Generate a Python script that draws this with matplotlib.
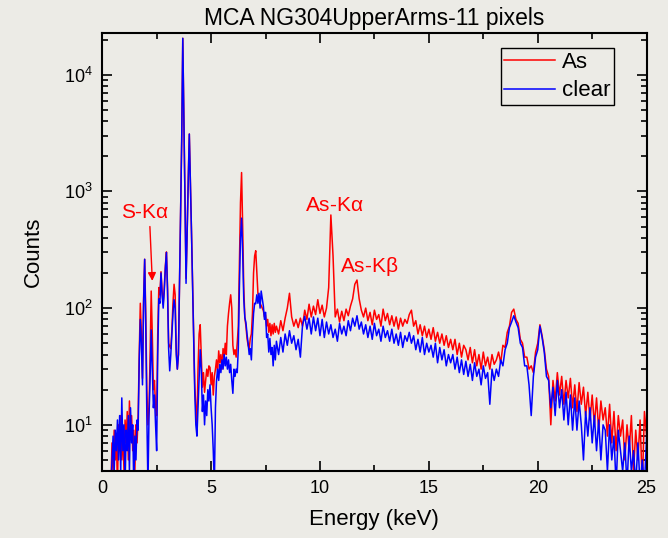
import numpy as np
import matplotlib
matplotlib.use("Agg")
import matplotlib.pyplot as plt

plt.rcParams['font.family'] = ['Liberation Sans', 'DejaVu Sans']
plt.rcParams['mathtext.default'] = 'regular'

# energy axis: 0.05 keV bins up to 8 keV, 0.1 keV bins after
energy_low = np.linspace(0.40, 8.00, 153)
energy_high = np.linspace(8.1, 25.0, 170)

# counts, "As" spectrum
as_low = [
    3, 7, 4, 9, 5, 8, 3, 10, 6, 12,
    5, 9, 4, 11, 7, 13, 5, 16, 8, 12,
    6, 9, 4, 10, 7, 12, 40, 110, 60, 25,
    120, 262, 90, 20, 10, 14, 40, 140, 60, 20,
    24, 14, 12, 60, 150, 130, 205, 140, 108, 150,
    230, 303, 150, 50, 47, 45, 65, 110, 160, 130,
    45, 30, 40, 160, 650, 2700, 20500, 4500, 900, 180,
    450, 1300, 3100, 1200, 450, 160, 60, 22, 14, 10,
    30, 60, 72, 40, 21, 28, 19, 24, 30, 26,
    32, 31, 22, 28, 18, 26, 30, 36, 28, 43,
    34, 40, 30, 45, 38, 50, 40, 70, 90, 110,
    130, 100, 48, 40, 44, 38, 50, 70, 250, 800,
    1450, 500, 150, 83, 70, 55, 48, 45, 55, 60,
    90, 200, 280, 310, 200, 134, 120, 110, 105, 100,
    95, 84, 88, 70, 80, 62, 74, 58, 72, 60,
    74, 62, 70,
]
as_high = [
    60, 78, 64, 82, 100, 134, 84, 70, 80, 68,
    82, 70, 96, 80, 108, 84, 104, 88, 118, 90,
    106, 84, 100, 150, 628, 280, 84, 98, 76, 94,
    78, 98, 86, 104, 120, 160, 174, 120, 96, 84,
    100, 78, 92, 72, 96, 80, 88, 70, 98, 78,
    90, 72, 86, 70, 84, 66, 82, 70, 80, 74,
    88, 96, 70, 78, 60, 72, 58, 70, 56, 66,
    54, 68, 52, 62, 50, 60, 48, 58, 46, 54,
    44, 54, 40, 50, 38, 48, 44, 36, 46, 34,
    44, 32, 40, 30, 42, 32, 38, 30, 40, 33,
    36, 42, 34, 48, 46, 62, 70, 92, 98, 80,
    74, 54, 50, 38, 38, 30, 32, 28, 42, 50,
    72, 58, 44, 30, 26, 10, 24, 16, 28, 18,
    26, 15, 24, 17, 25, 14, 22, 13, 23, 15,
    21, 12, 19, 11, 18, 10, 17, 9, 16, 11,
    14, 8, 15, 7, 13, 6, 12, 8, 11, 5,
    10, 6, 12, 4, 9, 5, 11, 3, 13, 8,
]

# "clear" spectrum
clear_low = [
    3, 5, 8, 4, 9, 6, 11, 5, 12, 4,
    17, 6, 10, 3, 9, 6, 12, 4, 14, 7,
    10, 3, 8, 5, 11, 9, 35, 80, 50, 22,
    110, 262, 70, 12, 3, 12, 25, 65, 30, 14,
    18, 10, 6, 40, 120, 110, 200, 130, 100, 140,
    220, 300, 140, 45, 29, 40, 60, 90, 118, 100,
    40, 30, 40, 160, 650, 2700, 20500, 4500, 900, 163,
    450, 1300, 3100, 1200, 450, 160, 60, 19, 10, 8,
    14, 25, 44, 30, 13, 18, 10, 16, 12, 20,
    16, 22, 14, 10, 6, 3, 14, 24, 30, 24,
    33, 28, 36, 30, 40, 32, 38, 30, 36, 28,
    33, 24, 18.6, 30, 26, 30, 28, 45, 150, 400,
    590, 300, 120, 83, 75, 60, 50, 40, 45, 36,
    60, 90, 110, 109, 130, 110, 134, 100, 140, 120,
    104, 80, 92, 56, 60, 42, 55, 40, 46, 32,
    48, 36, 52,
]
clear_high = [
    40, 56, 42, 60, 48, 64, 50, 58, 44, 54,
    38, 72, 85, 66, 82, 60, 84, 64, 82, 58,
    80, 56, 76, 60, 72, 56, 66, 52, 74, 60,
    70, 58, 78, 64, 82, 70, 86, 66, 76, 60,
    72, 56, 70, 54, 74, 58, 66, 52, 70, 56,
    64, 52, 66, 50, 60, 48, 62, 46, 58, 52,
    62, 50, 58, 44, 54, 42, 56, 40, 50, 42,
    48, 38, 50, 34, 46, 36, 44, 32, 40, 34,
    40, 30, 38, 28, 36, 27, 35, 26, 33, 24,
    34, 26, 30, 22, 32, 25, 28, 15, 30, 24,
    30, 26, 36, 32, 44, 50, 68, 76, 86, 76,
    68, 50, 46, 32, 32, 22, 12, 26, 38, 44,
    70, 56, 42, 26, 24, 14, 21, 12, 24, 14,
    20, 11, 19, 10, 18, 9, 17, 9, 16, 10,
    5, 13, 8, 14, 7, 12, 6, 11, 5, 10,
    9, 4, 10, 5, 8, 3, 9, 6, 4, 7,
    3, 8, 4, 6, 3, 7, 3, 5, 3, 8,
]

energy = np.concatenate([energy_low, energy_high])
counts_as = np.array(as_low + as_high, dtype=float)
counts_clear = np.array(clear_low + clear_high, dtype=float)

bg = '#ecebe6'
fig = plt.figure(figsize=(6.68, 5.38), dpi=100, facecolor=bg)
ax = fig.add_axes([0.153, 0.125, 0.815, 0.813], facecolor=bg)

ax.plot(energy, counts_as, color='red', lw=1.1, label='As')
ax.plot(energy, counts_clear, color='blue', lw=1.1, label='clear')

ax.set_yscale('log')
ax.set_xlim(0, 25)
ax.set_ylim(4.04, 22600)
ax.set_xticks([0, 5, 10, 15, 20, 25])
ax.set_xticks([2.5, 7.5, 12.5, 17.5, 22.5], minor=True)

ax.tick_params(which='both', direction='in', top=True, right=True,
               labelsize=13, width=1.2)
ax.tick_params(which='major', length=7, pad=7)
ax.tick_params(which='minor', length=4)
for s in ax.spines.values():
    s.set_linewidth(1.5)

ax.set_title('MCA NG304UpperArms-11 pixels', fontsize=16.5, pad=6)
ax.set_xlabel('Energy (keV)', fontsize=16, labelpad=8)
ax.set_ylabel('Counts', fontsize=16, labelpad=14)

# peak labels
ax.text(1.99, 660, 'S-K$\\alpha$', color='red', fontsize=15, ha='center', va='center')
ax.annotate('', xy=(2.30, 171), xytext=(2.19, 500),
            arrowprops=dict(arrowstyle='-|>', color='red', lw=1.0,
                            mutation_scale=12, shrinkA=0, shrinkB=0))
ax.text(10.65, 757, 'As-K$\\alpha$', color='red', fontsize=15, ha='center', va='center')
ax.text(12.27, 227, 'As-K$\\beta$', color='red', fontsize=15, ha='center', va='center')

leg = ax.legend(loc='upper right', bbox_to_anchor=(0.94, 0.966), borderaxespad=0,
                fontsize=16, fancybox=False, framealpha=1, facecolor=bg,
                edgecolor='black', handlelength=2.3, handletextpad=0.3,
                labelspacing=0.35, borderpad=0.15)
leg.get_frame().set_linewidth(1.0)

fig.savefig('out.png', dpi=100, facecolor=bg)
